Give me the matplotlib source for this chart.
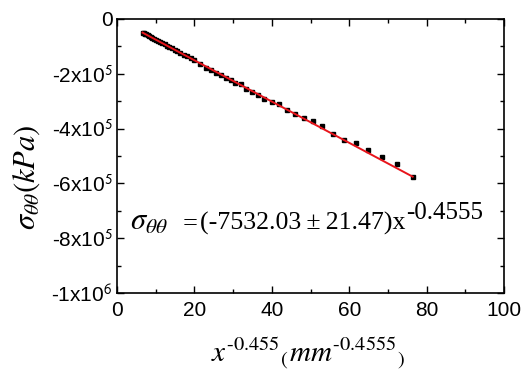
import numpy as np
import matplotlib.pyplot as plt
from matplotlib.ticker import MultipleLocator, FixedLocator

plt.rcParams['font.family'] = ['Liberation Sans', 'DejaVu Sans']
plt.rcParams['mathtext.fontset'] = 'stix'

# x^-0.455 (mm^-0.4555)
x_vals = [6.6, 6.9, 7.2, 7.5, 7.9, 8.3, 8.7, 9.1, 9.6, 10.1, 10.6, 11.1, 11.7,
          12.3, 12.9, 13.5, 14.2, 14.9, 15.6, 16.4, 17.2, 18.1, 19.0, 20.0,
          21.4, 23.0, 24.3, 25.6, 26.8, 28.1, 29.4, 30.6, 32.0, 33.3, 34.9,
          36.5, 38.1, 40.0, 41.9, 43.8, 46.0, 48.2, 50.6, 53.1, 55.7, 58.6,
          61.7, 64.9, 68.5, 72.3, 76.4]
# sigma_theta_theta in kPa (thousands)
y_vals_k = [-50, -52, -54, -56, -59, -62, -65, -68, -72, -76, -80, -84, -88,
            -93, -97, -102, -107, -112, -118, -124, -130, -136, -143, -150,
            -165, -178, -187, -196, -204, -214, -224, -234, -236, -254, -266,
            -278, -292, -303, -310, -333, -348, -362, -371, -390, -420, -443,
            -452, -477, -502, -529, -578]
fit_coef = -7532.03
fit_err = 21.47
fit_exp = -0.4555

y_ticks = [0, -2e5, -4e5, -6e5, -8e5, -1e6]
y_tick_labels = ['0', r'-2x10$^{\mathsf{5}}$', r'-4x10$^{\mathsf{5}}$',
                 r'-6x10$^{\mathsf{5}}$', r'-8x10$^{\mathsf{5}}$', r'-1x10$^{\mathsf{6}}$']

x = np.array(x_vals)
y = np.array(y_vals_k) * 1000.0

fig = plt.figure(figsize=(5.29, 3.71), dpi=100)
ax = fig.add_axes([117 / 529, 1 - 293 / 371, 387 / 529, 274 / 371])

ax.plot(x, y, 's', color='black', markersize=2.6, zorder=2)
x_line = np.array([x.min(), x.max()])
ax.plot(x_line, fit_coef * x_line, color='#e8141b', lw=1.4, zorder=3)

ax.set_xlim(0, 100)
ax.set_ylim(-1e6, 0)
ax.xaxis.set_major_locator(MultipleLocator(20))
ax.xaxis.set_minor_locator(MultipleLocator(10))
ax.yaxis.set_major_locator(FixedLocator(y_ticks))
ax.yaxis.set_minor_locator(MultipleLocator(1e5))
ax.set_yticklabels(y_tick_labels)
ax.tick_params(which='both', direction='in', top=True, right=True, width=1.0)
ax.tick_params(which='major', length=5)
ax.tick_params(which='minor', length=3)
ax.tick_params(axis='x', labelsize=15, pad=6)
ax.tick_params(axis='y', labelsize=15, pad=3)
for s in ax.spines.values():
    s.set_linewidth(1.2)

# fitted equation
ax.text(3.4, -7.7e5, r'$\sigma_{\theta\theta}$', fontsize=22,
        va='baseline', ha='left')
ax.text(17.0, -7.7e5, '=', family='Liberation Serif', fontsize=19,
        va='baseline', ha='left')
main = ax.text(21.4, -7.7e5, '(%.2f\u2009\u00b1\u2009%.2f)x' % (fit_coef, fit_err),
               family='Liberation Serif', fontsize=18.6, va='baseline', ha='left')
ax.annotate('%.4f' % fit_exp, xy=(1, 0), xycoords=main, xytext=(0.3, 12),
            textcoords='offset points', family='Liberation Serif', fontsize=18,
            va='baseline', ha='left')

fig.text(308 / 529, 1 - 362 / 371,
         r'$x^{\mathit{\text{-}0.455}}{}_{(}mm^{\mathit{\text{-}0.4555}}{}_{)}$',
         fontsize=21, ha='center', va='baseline')
fig.text(27 / 529, 1 - 177 / 371, r'$\sigma_{\theta\theta}(kPa)$',
         fontsize=22, rotation=90, ha='center', va='center')

fig.savefig('out.png', dpi=100)
